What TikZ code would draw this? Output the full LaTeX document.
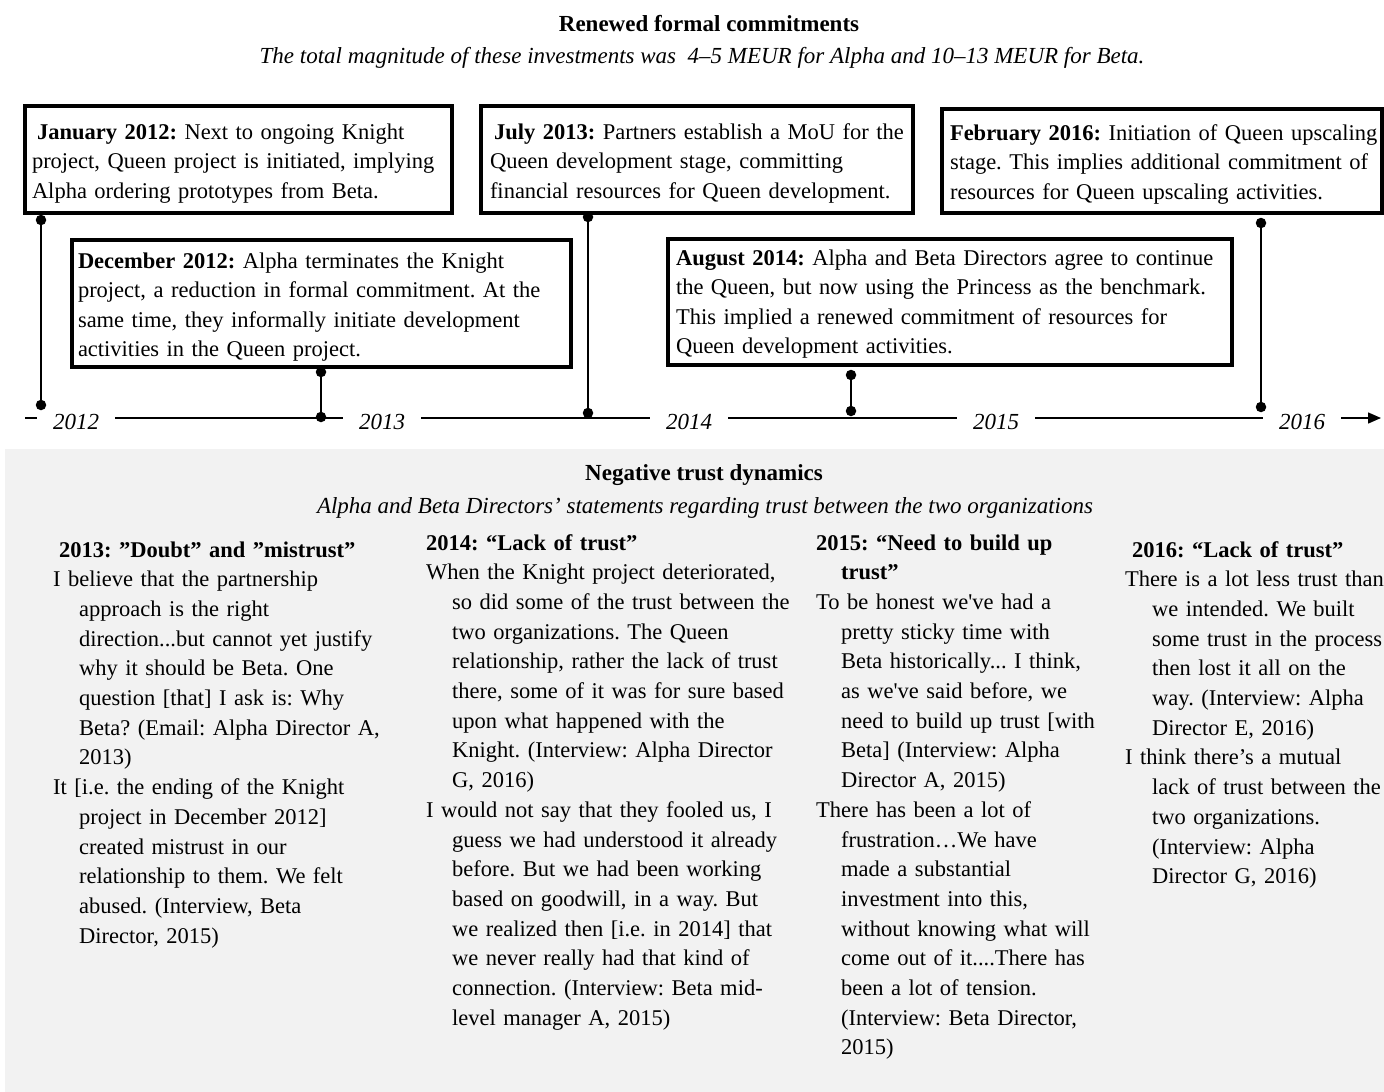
\documentclass[tikz,border=0pt]{standalone}
\usepackage{fontspec}
\setmainfont{Liberation Serif}
\usetikzlibrary{arrows.meta}
\definecolor{bggray}{HTML}{F2F2F2}
\newcommand\qind{\hspace*{26pt}}
\newcommand\bxl[1]{\mbox{#1}}
\frenchspacing
\tikzset{
  evbox/.style={draw, line width=4pt, inner ysep=0pt, outer sep=0pt, anchor=north west, align=left, font=\fontsize{22.5pt}{29.5pt}\selectfont\frenchspacing},
  col/.style={anchor=base west, align=left, text width=430pt, inner sep=0pt, font=\fontsize{22.5pt}{29.7pt}\selectfont\frenchspacing},
  dot/.style={circle, fill=black, inner sep=0pt, minimum size=10.5pt},
  conn/.style={line width=2pt},
  axisline/.style={line width=1.5pt, -{Triangle[length=13pt,width=11pt]}},
  yearlbl/.style={fill=white, inner xsep=16pt, inner ysep=2pt, font=\fontsize{23pt}{28pt}\selectfont\itshape},
  ttl/.style={anchor=base, inner sep=0pt, font=\fontsize{23pt}{28pt}\selectfont\bfseries},
  subttl/.style={anchor=base, inner sep=0pt, font=\fontsize{23pt}{28pt}\selectfont\itshape},
}
\begin{document}
\begin{tikzpicture}[x=1pt,y=-1pt]
\useasboundingbox[fill=white] (0,0) rectangle (1384,1092);

% titles
\node[ttl] (t1) at (709,31) {Renewed formal commitments};
\node[subttl] (t2) at (702,63) {The total magnitude of these investments was~ 4–5 MEUR for Alpha and 10–13 MEUR for Beta.};

% event boxes
\node[evbox, inner xsep=7pt, text width=413pt, text height=33pt, text depth=74pt] (e1) at (25,106)
 {\bxl{\hspace*{5pt}\textbf{January 2012:} Next to ongoing Knight}\\
  \bxl{project, Queen project is initiated, implying}\\
  \bxl{Alpha ordering prototypes from Beta.}};
\node[evbox, inner xsep=6pt, text width=487pt, text height=28pt, text depth=99pt] (e2) at (72,240)
 {\bxl{\textbf{December 2012:} Alpha terminates the Knight}\\
  \bxl{project, a reduction in formal commitment. At the}\\
  \bxl{same time, they informally initiate development}\\
  \bxl{activities in the Queen project.}};
\node[evbox, inner xsep=9pt, text width=414pt, text height=33pt, text depth=74pt] (e3) at (481,106)
 {\bxl{\hspace*{4pt}\textbf{July 2013:} Partners establish a MoU for the}\\
  \bxl{Queen development stage, committing}\\
  \bxl{financial resources for Queen development.}};
\node[evbox, inner xsep=8pt, text width=548pt, text height=26pt, text depth=100pt] (e4) at (668,239)
 {\bxl{\textbf{August 2014:} Alpha and Beta Directors agree to continue}\\
  \bxl{the Queen, but now using the Princess as the benchmark.}\\
  \bxl{This implied a renewed commitment of resources for}\\
  \bxl{Queen development activities.}};
\node[evbox, inner xsep=8pt, text width=424pt, text height=31pt, text depth=73pt] (e5) at (942,109)
 {\bxl{\textbf{February 2016:} Initiation of Queen upscaling}\\
  \bxl{stage. This implies additional commitment of}\\
  \bxl{resources for Queen upscaling activities.}};

% axis
\coordinate (axs) at (25,418);
\coordinate (axe) at (1381,418);
\draw[axisline] (axs) -- (axe);
\node[yearlbl] (y12) at (76,421.5) {2012};
\node[yearlbl] (y13) at (382,421.5) {2013};
\node[yearlbl] (y14) at (689,421.5) {2014};
\node[yearlbl] (y15) at (996,421.5) {2015};
\node[yearlbl] (y16) at (1302,421.5) {2016};

% connectors
\node[dot] (j1) at (41,220) {};
\node[dot] (j2) at (41,405) {};
\node[dot] (d1) at (321,372) {};
\node[dot] (d2) at (321,417) {};
\node[dot] (u1) at (588,217) {};
\node[dot] (u2) at (588,413) {};
\node[dot] (a1) at (851,375) {};
\node[dot] (a2) at (851,411) {};
\node[dot] (f1) at (1261,223) {};
\node[dot] (f2) at (1261,407) {};
\draw[conn] (j1) -- (j2);
\draw[conn] (d1) -- (d2);
\draw[conn] (u1) -- (u2);
\draw[conn] (a1) -- (a2);
\draw[conn] (f1) -- (f2);

% lower panel
\fill[bggray] (5,449) rectangle (1384,1092);
\node[ttl] (n1) at (704,480) {Negative trust dynamics};
\node[subttl] (n2) at (705,513) {Alpha and Beta Directors’ statements regarding trust between the two organizations};

\node[col] (c1) at (53,557)
 {\hspace*{6pt}\textbf{2013: ”Doubt” and ”mistrust”}\\
  I believe that the partnership\\
  \qind approach is the right\\
  \qind direction...but cannot yet justify\\
  \qind why it should be Beta. One\\
  \qind question [that] I ask is: Why\\
  \qind Beta? (Email: Alpha Director A,\\
  \qind 2013)\\
  It [i.e. the ending of the Knight\\
  \qind project in December 2012]\\
  \qind created mistrust in our\\
  \qind relationship to them. We felt\\
  \qind abused. (Interview, Beta\\
  \qind Director, 2015)};

\node[col] (c2) at (426,550)
 {\textbf{2014: “Lack of trust”}\\
  When the Knight project deteriorated,\\
  \qind so did some of the trust between the\\
  \qind two organizations. The Queen\\
  \qind relationship, rather the lack of trust\\
  \qind there, some of it was for sure based\\
  \qind upon what happened with the\\
  \qind Knight. (Interview: Alpha Director\\
  \qind G, 2016)\\
  I would not say that they fooled us, I\\
  \qind guess we had understood it already\\
  \qind before. But we had been working\\
  \qind based on goodwill, in a way. But\\
  \qind we realized then [i.e. in 2014] that\\
  \qind we never really had that kind of\\
  \qind connection. (Interview: Beta mid-\\
  \qind level manager A, 2015)};

\node[col] (c3) at (816,550)
 {\textbf{2015: “Need to build up}\\
  \hspace*{25pt}\textbf{trust”}\\
  To be honest we\textquotesingle ve had a\\
  \hspace*{25pt}pretty sticky time with\\
  \hspace*{25pt}Beta historically... I think,\\
  \hspace*{25pt}as we\textquotesingle ve said before, we\\
  \hspace*{25pt}need to build up trust [with\\
  \hspace*{25pt}Beta] (Interview: Alpha\\
  \hspace*{25pt}Director A, 2015)\\
  There has been a lot of\\
  \hspace*{25pt}frustration…We have\\
  \hspace*{25pt}made a substantial\\
  \hspace*{25pt}investment into this,\\
  \hspace*{25pt}without knowing what will\\
  \hspace*{25pt}come out of it....There has\\
  \hspace*{25pt}been a lot of tension.\\
  \hspace*{25pt}(Interview: Beta Director,\\
  \hspace*{25pt}2015)};

\node[col] (c4) at (1125,557)
 {\hspace*{7pt}\textbf{2016: “Lack of trust”}\\
  There is a lot less trust than\\
  \hspace*{27pt}we intended. We built\\
  \hspace*{27pt}some trust in the process\\
  \hspace*{27pt}then lost it all on the\\
  \hspace*{27pt}way. (Interview: Alpha\\
  \hspace*{27pt}Director E, 2016)\\
  I think there’s a mutual\\
  \hspace*{27pt}lack of trust between the\\
  \hspace*{27pt}two organizations.\\
  \hspace*{27pt}(Interview: Alpha\\
  \hspace*{27pt}Director G, 2016)};
\end{tikzpicture}
\end{document}
